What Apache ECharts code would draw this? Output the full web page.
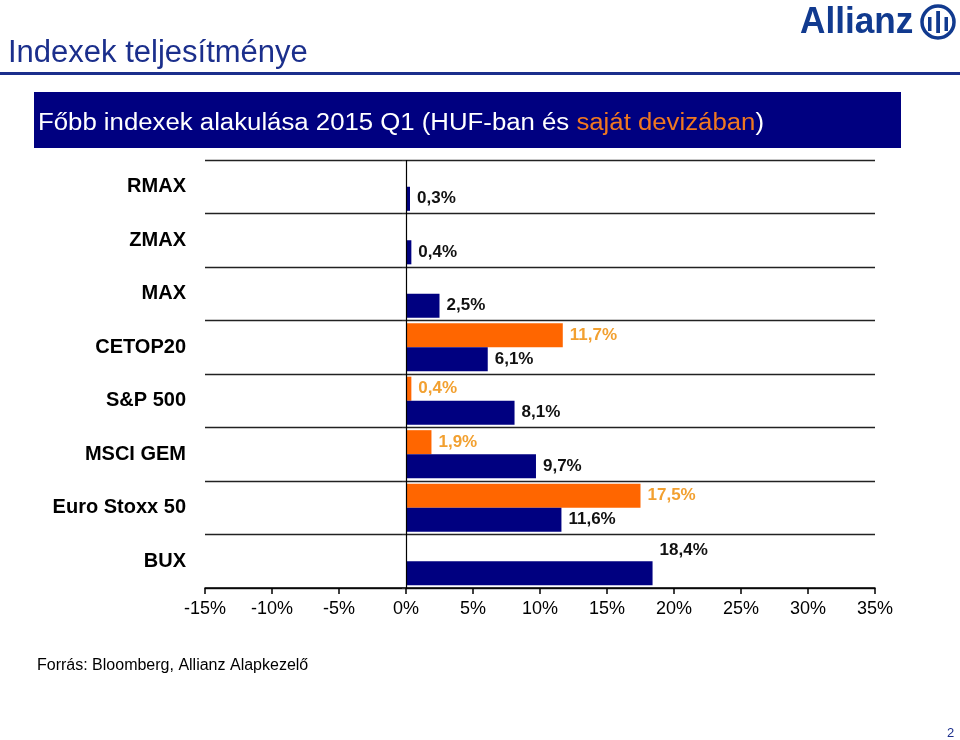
<!DOCTYPE html>
<html>
<head>
<meta charset="utf-8">
<script src="https://cdn.jsdelivr.net/npm/echarts@6/dist/echarts.min.js"></script>
<style>
html,body{margin:0;padding:0;background:#fff;}
#chart{width:960px;height:740px;}
</style>
</head>
<body>
<div id="chart"></div>
<script>
// ---- data ----
const categories = ['RMAX', 'ZMAX', 'MAX', 'CETOP20', 'S&P 500', 'MSCI GEM', 'Euro Stoxx 50', 'BUX'];
const ownCurrencyValues = [null, null, null, 11.7, 0.4, 1.9, 17.5, null];
const hufValues = [0.3, 0.4, 2.5, 6.1, 8.1, 9.7, 11.6, 18.4];
const xTicks = [-15, -10, -5, 0, 5, 10, 15, 20, 25, 30, 35];

const NAVY = '#000080';
const ORANGE = '#FF6600';
const ORANGE_LABEL = '#F2A030';
const TITLE_BLUE = '#1b2f8c';
const LOGO_BLUE = '#113a8f';
const FONT = '"Liberation Sans", Arial, sans-serif';

function fmt(v) { return v.toFixed(1).replace('.', ',') + '%'; }

const chart = echarts.init(document.getElementById('chart'), null, {renderer: 'canvas'});

const hufData = hufValues.map(function (v, i) {
  const item = {value: v};
  if (categories[i] === 'BUX') {
    item.label = {offset: [0, -23]};
  }
  return item;
});

const option = {
  backgroundColor: '#ffffff',
  animation: false,
  grid: {left: 205, right: 85, top: 160, bottom: 152, containLabel: false},
  xAxis: {
    type: 'value',
    min: xTicks[0],
    max: xTicks[xTicks.length - 1],
    interval: 5,
    axisLine: {show: true, onZero: false, lineStyle: {color: '#000', width: 1.5}},
    axisTick: {show: true, length: 6, lineStyle: {color: '#000', width: 1.5}},
    axisLabel: {
      formatter: function (v) { return v + '%'; },
      color: '#000', fontSize: 18, fontFamily: FONT, margin: 12
    },
    splitLine: {show: false}
  },
  yAxis: {
    type: 'category',
    data: categories,
    inverse: true,
    axisLine: {show: false},
    axisTick: {show: true, length: 4, lineStyle: {color: '#333'}},
    axisLabel: {color: '#000', fontSize: 20, fontWeight: 'bold', fontFamily: FONT, margin: 19},
    splitLine: {show: true, lineStyle: {color: '#222', width: 1.3}}
  },
  series: [
    {
      name: 'saját devizában',
      type: 'bar',
      data: ownCurrencyValues,
      barGap: '0%',
      barCategoryGap: '10%',
      itemStyle: {color: ORANGE},
      label: {
        show: true, position: 'right', distance: 7,
        color: ORANGE_LABEL, fontSize: 17, fontWeight: 'bold', fontFamily: FONT,
        formatter: function (p) { return fmt(p.value); }
      },
      markLine: {
        silent: true, symbol: 'none', label: {show: false},
        lineStyle: {color: '#000', width: 1.2, type: 'solid'},
        data: [{xAxis: 0}]
      }
    },
    {
      name: 'HUF-ban',
      type: 'bar',
      data: hufData,
      barGap: '0%',
      barCategoryGap: '10%',
      itemStyle: {color: NAVY},
      label: {
        show: true, position: 'right', distance: 7,
        color: '#111', fontSize: 17, fontWeight: 'bold', fontFamily: FONT,
        formatter: function (p) { return fmt(p.value); }
      }
    }
  ],
  graphic: [
    // page title
    {type: 'text', x: 8, y: 53,
      style: {text: 'Indexek teljesítménye', fill: TITLE_BLUE, font: '31px ' + FONT, verticalAlign: 'middle'}},
    {type: 'rect', shape: {x: 0, y: 72, width: 960, height: 3}, style: {fill: TITLE_BLUE}},
    // banner
    {type: 'rect', shape: {x: 34, y: 92, width: 867, height: 56}, style: {fill: NAVY}},
    {type: 'text', x: 38, y: 124, scaleX: 1.12,
      style: {
        text: '{w|Főbb indexek alakulása 2015 Q1 (HUF-ban és }{o|saját devizában}{w|)}',
        verticalAlign: 'middle',
        rich: {
          w: {fill: '#ffffff', font: '23px ' + FONT},
          o: {fill: '#F07820', font: '23px ' + FONT}
        }
      }
    },
    // logo
    {type: 'text', x: 800, y: 23, scaleX: 0.95,
      style: {text: 'Allianz', align: 'left', verticalAlign: 'middle', fill: LOGO_BLUE,
        font: 'bold 37px "Liberation Sans Narrow", "Arial Narrow", ' + FONT}},
    {type: 'circle', shape: {cx: 938, cy: 22, r: 16}, style: {fill: 'none', stroke: LOGO_BLUE, lineWidth: 3.5}},
    {type: 'rect', shape: {x: 928, y: 17, width: 3.5, height: 14}, style: {fill: LOGO_BLUE}},
    {type: 'rect', shape: {x: 936.2, y: 11, width: 3.8, height: 22}, style: {fill: LOGO_BLUE}},
    {type: 'rect', shape: {x: 944.5, y: 17, width: 3.5, height: 14}, style: {fill: LOGO_BLUE}},
    // footer
    {type: 'text', x: 37, y: 666,
      style: {text: 'Forrás: Bloomberg, Allianz Alapkezelő', fill: '#000', font: '16px ' + FONT, verticalAlign: 'middle'}},
    {type: 'text', x: 947, y: 733,
      style: {text: '2', fill: TITLE_BLUE, font: '13px ' + FONT, verticalAlign: 'middle'}}
  ]
};

chart.setOption(option);
</script>
</body>
</html>
